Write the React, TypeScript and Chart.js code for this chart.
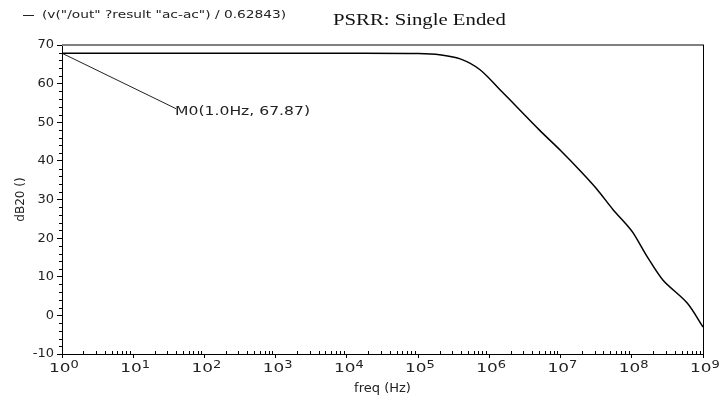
import React, { useEffect, useRef } from 'react';
import { Chart, registerables } from 'chart.js';

Chart.register(...registerables);

// ---- data ----
const freqHz = [1, 10, 100, 1000, 10000, 1e5, 2e5, 3.9e5, 7.4e5, 1.4e6, 2.7e6, 5.1e6, 1e7, 1.9e7, 3.2e7, 5.5e7, 8e7, 1.05e8, 1.66e8, 2.75e8, 6e8, 1e9];
const psrrDb = [67.87, 67.87, 67.87, 67.87, 67.87, 67.8, 67.5, 66.4, 63.6, 58.5, 53.1, 47.9, 42.7, 37.4, 32.8, 27.3, 24.0, 21.3, 15.1, 9.1, 3.2, -3.0];

const markerFreq = [1, 40];
const markerDb = [67.87, 53.5];
const markerLabel = 'M0(1.0Hz, 67.87)';

const xTickValues = [1, 10, 100, 1e3, 1e4, 1e5, 1e6, 1e7, 1e8, 1e9];
const xTickExponents = ['0', '1', '2', '3', '4', '5', '6', '7', '8', '9'];
const yMin = -10;
const yMax = 70;
const yStep = 10;
const yMinorStep = 2;

const legendText = '(v("/out" ?result "ac-ac") / 0.62843)';
const titleText = 'PSRR: Single Ended';
const xTitle = 'freq (Hz)';
const yTitle = 'dB20 ()';

const FONT = '"DejaVu Sans", Verdana, sans-serif';

function stretchedText(ctx: any, text: string, x: number, y: number, sx: number) {
  ctx.save();
  ctx.translate(x, y);
  ctx.scale(sx, 1);
  ctx.fillText(text, 0, 0);
  ctx.restore();
}

const decorPlugin = {
  id: 'decor',
  afterDraw(chart: any) {
    const { ctx, chartArea } = chart;
    const { left, top, right, bottom } = chartArea;
    const xs = chart.scales.x;
    const ys = chart.scales.y;
    ctx.save();
    // frame top & right
    ctx.strokeStyle = '#808080';
    ctx.lineWidth = 2;
    ctx.beginPath();
    ctx.moveTo(left, top);
    ctx.lineTo(right + 1, top);
    ctx.stroke();
    ctx.strokeStyle = '#000';
    ctx.lineWidth = 1;
    ctx.beginPath();
    ctx.moveTo(Math.round(right) + 0.5, top);
    ctx.lineTo(Math.round(right) + 0.5, bottom);
    ctx.stroke();
    // minor ticks
    ctx.beginPath();
    for (let v = yMin; v <= yMax; v += yMinorStep) {
      if (v % yStep === 0) continue;
      const py = Math.round(ys.getPixelForValue(v)) + 0.5;
      ctx.moveTo(left - 3, py);
      ctx.lineTo(left, py);
    }
    for (let d = 0; d < xTickValues.length - 1; d++) {
      for (let m = 2; m <= 9; m++) {
        const px = Math.round(xs.getPixelForValue(m * xTickValues[d])) + 0.5;
        ctx.moveTo(px, bottom);
        ctx.lineTo(px, bottom - 3);
      }
    }
    ctx.stroke();
    // x tick labels: 10 with superscript exponent
    ctx.fillStyle = '#222';
    ctx.textBaseline = 'middle';
    ctx.textAlign = 'left';
    xTickValues.forEach((v, i) => {
      const px = xs.getPixelForValue(v);
      ctx.save();
      ctx.translate(px - 13, bottom + 15);
      ctx.scale(1.3, 1);
      ctx.font = `13px ${FONT}`;
      ctx.fillText('10', 0, 0);
      const w = ctx.measureText('10').width;
      ctx.font = `10px ${FONT}`;
      ctx.fillText(xTickExponents[i], w, -4);
      ctx.restore();
    });
    // marker label
    const mx = xs.getPixelForValue(markerFreq[1]);
    const my = ys.getPixelForValue(markerDb[1]);
    ctx.font = `13px ${FONT}`;
    stretchedText(ctx, markerLabel, mx - 1, my + 3, 1.2);
    // legend
    ctx.strokeStyle = '#222';
    ctx.lineWidth = 1;
    ctx.beginPath();
    ctx.moveTo(23, 15.5);
    ctx.lineTo(34, 15.5);
    ctx.stroke();
    ctx.font = `11px ${FONT}`;
    stretchedText(ctx, legendText, 42, 15, 1.25);
    // title
    ctx.font = '17px "Liberation Serif", "Times New Roman", serif';
    ctx.fillStyle = '#111';
    stretchedText(ctx, titleText, 333, 21, 1.22);
    ctx.restore();
  },
};

export default function App() {
  const ref = useRef<HTMLCanvasElement | null>(null);
  useEffect(() => {
    if (!ref.current) return;
    const chart = new Chart(ref.current, {
      type: 'line',
      data: {
        datasets: [
          {
            data: freqHz.map((f, i) => ({ x: f, y: psrrDb[i] })),
            borderColor: '#000',
            borderWidth: 1.5,
            pointRadius: 0,
            tension: 0.3,
          },
          {
            data: markerFreq.map((f, i) => ({ x: f, y: markerDb[i] })),
            borderColor: '#222',
            borderWidth: 1,
            pointRadius: 0,
            tension: 0,
          },
        ],
      },
      options: {
        animation: false,
        responsive: false,
        maintainAspectRatio: false,
        layout: { padding: { top: 45, right: 17, left: 0, bottom: 0 } },
        plugins: {
          legend: { display: false },
          tooltip: { enabled: false },
          title: { display: false },
        },
        scales: {
          x: {
            type: 'logarithmic',
            min: 1,
            max: 1e9,
            afterBuildTicks: (scale: any) => {
              scale.ticks = xTickValues.map((v) => ({ value: v }));
            },
            afterFit: (scale: any) => {
              scale.height = 48;
            },
            ticks: {
              autoSkip: false,
              maxRotation: 0,
              padding: 1,
              font: { family: FONT, size: 13 },
              callback: () => '',
            },
            grid: {
              drawOnChartArea: false,
              drawTicks: true,
              tickLength: 4,
              color: '#000',
            },
            border: { display: true, color: '#000', width: 1 },
            title: {
              display: true,
              text: xTitle,
              color: '#222',
              font: { family: FONT, size: 13 },
              padding: { top: 0, bottom: 6 },
            },
          },
          y: {
            type: 'linear',
            min: yMin,
            max: yMax,
            afterFit: (scale: any) => {
              scale.width = 62;
            },
            ticks: {
              stepSize: yStep,
              padding: 3,
              color: '#222',
              font: { family: FONT, size: 13 },
            },
            grid: {
              drawOnChartArea: false,
              drawTicks: true,
              tickLength: 5,
              color: '#000',
            },
            border: { display: true, color: '#000', width: 1 },
            title: {
              display: true,
              text: yTitle,
              color: '#222',
              font: { family: FONT, size: 12 },
              padding: { top: 14, bottom: 0 },
            },
          },
        },
      } as any,
      plugins: [decorPlugin],
    });
    return () => chart.destroy();
  }, []);
  return (
    <div style={{ position: 'absolute', left: 0, top: 0, width: 720, height: 402, background: '#fff' }}>
      <canvas ref={ref} width={720} height={402} style={{ width: 720, height: 402, display: 'block' }} />
    </div>
  );
}
